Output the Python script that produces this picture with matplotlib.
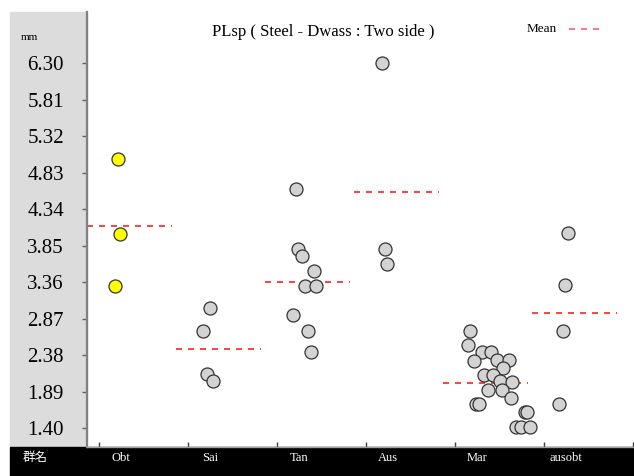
import numpy as np
import matplotlib.pyplot as plt
from matplotlib.patches import Rectangle
from matplotlib.lines import Line2D
from matplotlib.transforms import blended_transform_factory

plt.rcParams['font.family'] = ['Liberation Serif', 'Noto Sans CJK JP']

W, H = 634, 476


def fx(px):
    return px / W


def fy(py):
    return 1 - py / H


# measured values per group (mm)
groups = ['Obt', 'Sai', 'Tan', 'Aus', 'Mar', 'ausobt']
obt = [5.01, 4.01, 3.31]
sai = [3.01, 2.71, 2.13, 2.03]
tan = [4.61, 3.81, 3.71, 3.51, 3.31, 3.31, 2.92, 2.71, 2.42]
aus = [6.30, 3.81, 3.61]
mar = [2.71, 2.52, 2.42, 2.42, 2.31, 2.32, 2.32, 2.21, 2.12, 2.12, 2.03,
       2.02, 1.92, 1.92, 1.81, 1.72, 1.72, 1.62, 1.62, 1.42, 1.42, 1.42]
ausobt = [4.02, 3.32, 2.71, 1.72]
values = [obt, sai, tan, aus, mar, ausobt]

# horizontal scatter of the points inside each group slot
jitter = [
    [0.21, 0.24, 0.18],
    [0.25, 0.17, 0.21, 0.28],
    [0.21, 0.24, 0.28, 0.41, 0.31, 0.44, 0.18, 0.35, 0.38],
    [0.18, 0.21, 0.24],
    [0.17, 0.14, 0.30, 0.40, 0.21, 0.47, 0.61, 0.54, 0.33, 0.43, 0.51,
     0.64, 0.37, 0.53, 0.63, 0.23, 0.27, 0.78, 0.81, 0.69, 0.74, 0.84],
    [0.27, 0.24, 0.21, 0.17],
]
yticks = [1.40, 1.89, 2.38, 2.87, 3.36, 3.85, 4.34, 4.83, 5.32, 5.81, 6.30]

fig = plt.figure(figsize=(W / 100, H / 100), dpi=100)

# grey label panel on the left and black category strip at the bottom
fig.add_artist(Rectangle((fx(10), fy(447)), fx(77), 435 / H,
                         transform=fig.transFigure, color='#dcdcdc', zorder=0))
fig.add_artist(Rectangle((fx(10), 0), fx(624), 29 / H,
                         transform=fig.transFigure, color='black', zorder=0))

ax = fig.add_axes([fx(87), fy(447), fx(634 - 87), 435 / H])
ax.set_facecolor('none')
ax.set_xlim(-0.135, 6.01)
ax.set_ylim(1.149, 6.989)

for k, (vals, jit) in enumerate(zip(values, jitter)):
    face = '#ffff00' if k == 0 else '#d3d3d3'
    ax.scatter(np.array(jit) + k, vals, s=88, c=face, edgecolors='#333333',
               linewidths=0.9, zorder=3)
    ax.hlines(np.mean(vals), k - 0.135, k + 0.82, colors='#ff2020',
              linewidth=1.2, linestyles=(0, (3.6, 3.6)), zorder=2)

for side in ['top', 'right']:
    ax.spines[side].set_visible(False)
ax.spines['left'].set_color('#808080')
ax.spines['left'].set_linewidth(1.6)
ax.spines['bottom'].set_color('#a0a0a0')
ax.spines['bottom'].set_linewidth(1.0)

ax.set_yticks(yticks)
ax.set_yticklabels(['%.2f' % v for v in yticks])
ax.tick_params(axis='y', direction='out', length=3.6, width=1, color='#606060',
               pad=13, labelsize=15)
ax.set_xticks(range(7))
ax.set_xticklabels([])
ax.tick_params(axis='x', direction='in', length=3.6, width=1, color='#404040')

trans = blended_transform_factory(ax.transData, fig.transFigure)
for k, name in enumerate(groups):
    ax.text(k + 0.25, fy(458), name, transform=trans, color='white', fontsize=9,
            ha='center', va='center')
fig.text(fx(35), fy(457), '群名', color='white', fontsize=9, ha='center',
         va='center', family=['Noto Sans CJK JP'])

fig.text(fx(29), fy(37), 'mm', fontsize=8, ha='center', va='center')
fig.text(fx(323), fy(32), 'PLsp ( Steel - Dwass : Two side )', fontsize=12,
         ha='center', va='center')
fig.text(fx(527), fy(29), 'Mean', fontsize=9.5, ha='left', va='center')
fig.add_artist(Line2D([fx(569), fx(602)], [fy(29), fy(29)], transform=fig.transFigure,
                      color='#ff6060', linewidth=1.2, linestyle=(0, (3.6, 3.6))))

fig.savefig('out.png', dpi=100)
